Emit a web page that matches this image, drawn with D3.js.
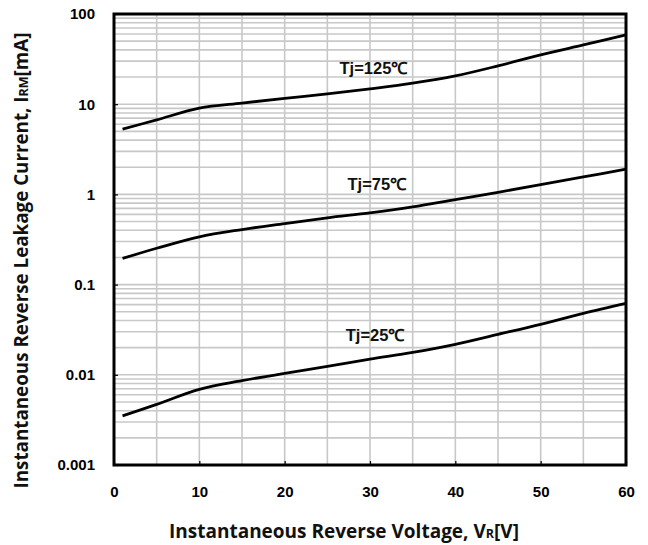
<!DOCTYPE html>
<html>
<meta charset='utf-8'>
<head>
<title>Reverse Leakage Current</title>
<script src='https://d3js.org/d3.v7.min.js'></script>
<style>
body { margin: 0; background: #fff; }
</style>
</head>
<body>
<div id='chart'></div>
<script>

// reverse voltage [V] where the curves were read
var voltage = [1, 5, 10, 15, 20, 25, 30, 35, 40, 45, 50, 55, 60];

// leakage current [mA] per junction temperature
var tj125 = [5.3, 6.7, 9.05, 10.3, 11.6, 13.0, 14.8, 17.1, 20.6, 26.6, 35.2, 45.4, 58.6];
var tj75  = [0.195, 0.253, 0.339, 0.408, 0.475, 0.55, 0.624, 0.727, 0.876, 1.055, 1.28, 1.56, 1.91];
var tj25  = [0.0035, 0.0047, 0.0069, 0.0086, 0.0104, 0.0124, 0.0149, 0.0177, 0.0218, 0.0281, 0.0363, 0.048, 0.062];

var seriesLabels = ['Tj=125℃', 'Tj=75℃', 'Tj=25℃'];
var labelPos = [[30.4, 21.5], [30.8, 1.13], [30.6, 0.0237]];  // label anchor, in data units

var xTicks = [0, 10, 20, 30, 40, 50, 60];
var yTicks = [0.001, 0.01, 0.1, 1, 10, 100];
var yTickLabels = ['0.001', '0.01', '0.1', '1', '10', '100'];

var margin = {top: 14, right: 22, bottom: 80, left: 114},
    width = 648 - margin.left - margin.right,
    height = 545 - margin.top - margin.bottom;

var svg = d3.select('#chart')
    .append('svg')
    .attr('width', 648)
    .attr('height', 545)
    .append('g')
    .attr('transform', 'translate(' + margin.left + ',' + margin.top + ')');

var x = d3.scaleLinear()
    .domain([0, 60])
    .range([0, width]);

var y = d3.scaleLog()
    .domain([0.001, 100])
    .range([height, 0]);

// grid
var xGrid = d3.range(5, 60, 5);
svg.append('g')
    .selectAll('line')
    .data(xGrid)
    .enter()
    .append('line')
    .attr('x1', function(d) { return x(d) })
    .attr('x2', function(d) { return x(d) })
    .attr('y1', 0)
    .attr('y2', height)
    .attr('stroke', '#c8c8c8')
    .attr('stroke-width', 1.6);

var yGrid = y.ticks().filter(function(d) { return d > 0.001 && d < 100 });
svg.append('g')
    .selectAll('line')
    .data(yGrid)
    .enter()
    .append('line')
    .attr('x1', 0)
    .attr('x2', width)
    .attr('y1', function(d) { return y(d) })
    .attr('y2', function(d) { return y(d) })
    .attr('stroke', '#c8c8c8')
    .attr('stroke-width', 1.6);

// axes, ticks point inward
var xAxis = svg.append('g')
    .attr('transform', 'translate(0,' + height + ')')
    .call(d3.axisBottom(x).tickValues(xTicks).tickSizeInner(-4).tickSizeOuter(0).tickPadding(20));

var yAxis = svg.append('g')
    .call(d3.axisLeft(y).tickValues(yTicks).tickFormat(function(d, i) { return yTickLabels[i] })
        .tickSizeInner(-4).tickSizeOuter(0).tickPadding(19));

[xAxis, yAxis].forEach(function(a) {
    a.select('.domain').remove();
    a.selectAll('line').attr('stroke', '#000').attr('stroke-width', 1.2);
    a.selectAll('text')
        .attr('font-family', 'Arial, "Liberation Sans", sans-serif')
        .attr('font-weight', 'bold')
        .attr('font-size', 15)
        .attr('fill', '#000');
});
xAxis.selectAll('text').attr('dy', '0.8em');

// frame
svg.append('rect')
    .attr('x', 0)
    .attr('y', 0)
    .attr('width', width)
    .attr('height', height)
    .attr('fill', 'none')
    .attr('stroke', '#000')
    .attr('stroke-width', 3);

// curves
var line = d3.line()
    .x(function(d) { return x(d[0]) })
    .y(function(d) { return y(d[1]) })
    .curve(d3.curveCatmullRom.alpha(0.5));

[tj125, tj75, tj25].forEach(function(s, i) {
    svg.append('path')
        .datum(voltage.map(function(v, j) { return [v, s[j]] }))
        .attr('fill', 'none')
        .attr('stroke', '#000')
        .attr('stroke-width', 2.8)
        .attr('d', line);

    svg.append('text')
        .attr('x', x(labelPos[i][0]))
        .attr('y', y(labelPos[i][1]))
        .attr('text-anchor', 'middle')
        .attr('font-family', 'Arial, "Liberation Sans", sans-serif')
        .attr('font-weight', 'bold')
        .attr('font-size', 16.5)
        .attr('fill', '#111')
        .text(seriesLabels[i]);
});

// axis titles
var titleFont = '"Open Sans", "Noto Sans", sans-serif';

var xt = svg.append('text')
    .attr('x', width / 2 - 26)
    .attr('y', height + 73)
    .attr('text-anchor', 'middle')
    .attr('font-family', titleFont)
    .attr('font-weight', 'bold')
    .attr('font-size', 19)
    .attr('fill', '#111');
xt.append('tspan').text('Instantaneous Reverse Voltage, V');
xt.append('tspan').attr('font-size', 12.5).text('R');
xt.append('tspan').text('[V]');

var yt = svg.append('text')
    .attr('transform', 'translate(' + (-86) + ',' + (height / 2 + 21) + ') rotate(-90)')
    .attr('text-anchor', 'middle')
    .attr('font-family', titleFont)
    .attr('font-weight', 'bold')
    .attr('font-size', 18.8)
    .attr('fill', '#111');
yt.append('tspan').text('Instantaneous Reverse Leakage Current, I');
yt.append('tspan').attr('font-size', 12.5).text('RM');
yt.append('tspan').text('[mA]');

</script>
</body>
</html>
